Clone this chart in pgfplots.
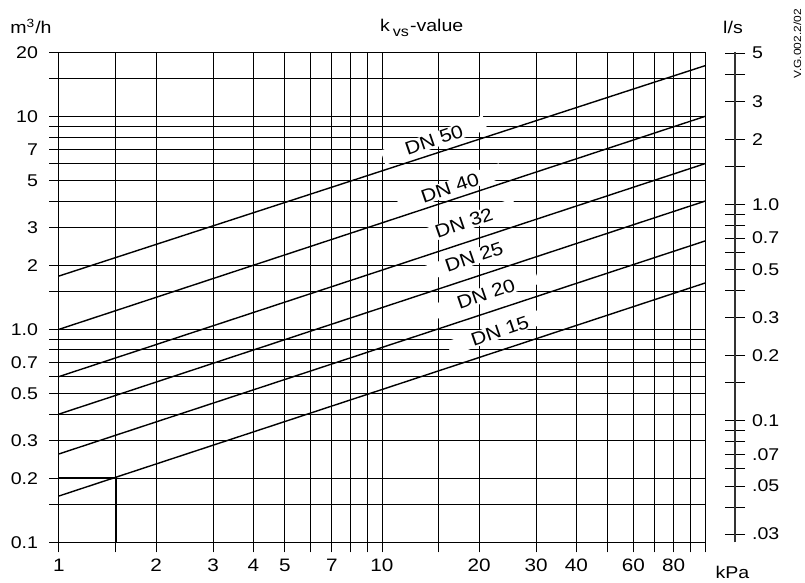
\documentclass[border=0pt]{standalone}
\usepackage{fontspec}
\setmainfont{Liberation Sans}[FakeStretch=1.15]
\usepackage{pgfplots}
\pgfplotsset{compat=1.18}

\newcommand{\lab}{\fontsize{8.5}{10}\selectfont}
\newcommand{\dnlab}{\fontsize{9.2}{10}\selectfont}

\begin{document}
\begin{tikzpicture}
\useasboundingbox (-29.5pt,-20.35pt) rectangle (373pt,271.15pt);

% main chart: flow against pressure drop, both log
\begin{axis}[
  name=main,
  scale only axis,
  width=323pt, height=245pt,
  xmode=log, ymode=log,
  xmin=1, xmax=100, ymin=0.1, ymax=20,
  xtick={1,2,3,4,5,7,10,20,30,40,60,80},
  xticklabels={1,2,3,4,5,7,10,20,30,40,60,80},
  minor xtick={1.5,6,8,9,15,50,70,90,100},
  ytick={0.1,0.2,0.3,0.5,0.7,1,2,3,5,7,10,20},
  yticklabels={0.1,0.2,0.3,0.5,0.7,1.0,2,3,5,7,10,20},
  minor ytick={0.15,0.4,0.6,0.8,0.9,1.5,4,6,8,9,15},
  grid=both,
  grid style={black, line width=0.5pt},
  minor grid style={black, line width=0.5pt},
  axis line style={black, line width=0.5pt},
  tick style={black, line width=0.5pt},
  tick align=outside,
  major tick length=5pt, minor tick length=5pt,
  xtick pos=bottom, ytick pos=left,
  tick label style={font=\lab},
  x tick label style={font=\fontsize{9}{10}\selectfont},
  y tick label style={xshift=-2pt},
]

% label backgrounds first, lines on top of them
\tikzset{dn/.style={fill=white, rotate=19, inner xsep=12pt, inner ysep=0.5pt, font=\dnlab}}
\node[dn] at (axis cs:14.49,7.74) {DN 50};
\node[dn] at (axis cs:16.24,4.61) {DN 40};
\node[dn] at (axis cs:17.94,3.155) {DN 32};
\node[dn] at (axis cs:19.27,2.185) {DN 25};
\node[dn] at (axis cs:20.99,1.464) {DN 20};
\node[dn] at (axis cs:23.19,0.982) {DN 15};

\addplot[black, line width=0.7pt] coordinates {(1,1.78) (100,17.3)};  % DN 50
\addplot[black, line width=0.7pt] coordinates {(1,1.0) (100,10)};     % DN 40
\addplot[black, line width=0.7pt] coordinates {(1,0.6) (100,6.0)};    % DN 32
\addplot[black, line width=0.7pt] coordinates {(1,0.4) (100,4.0)};    % DN 25
\addplot[black, line width=0.7pt] coordinates {(1,0.26) (100,2.6)};   % DN 20
\addplot[black, line width=0.7pt] coordinates {(1,0.165) (100,1.65)}; % DN 15

% reading example
\addplot[black, line width=1.2pt] coordinates {(1,0.2) (1.5,0.2) (1.5,0.1)};
\end{axis}

% second scale in l/s
\begin{axis}[
  at={(338pt,0pt)}, anchor=south east,
  scale only axis, width=10pt, height=245pt,
  xmin=0, xmax=1,
  ymode=log, ymin=0.0275, ymax=5.05,
  axis x line=none, axis y line=right,
  axis line style={-, black!80, line width=0.55pt},
  ytick={0.03,0.05,0.07,0.1,0.2,0.3,0.5,0.7,1,2,3,5},
  yticklabels={.03,.05,.07,0.1,0.2,0.3,0.5,0.7,1.0,2,3,5},
  minor ytick={0.04,0.06,0.08,0.09,0.15,0.4,0.6,0.8,0.9,1.5,4},
  tick align=center,
  major tick length=10pt, minor tick length=10pt,
  tick style={black, line width=0.5pt},
  yticklabel style={font=\lab},
]
\end{axis}

\node[anchor=base, font=\lab] at (-14pt,254.5pt) {m\textsuperscript{3}/h};
\node[anchor=base, font=\lab] at (181.35pt,255.3pt)
  {k\hspace{1.5pt}\raisebox{-2.5pt}{\fontsize{7}{8}\selectfont vs}\hspace{0.5pt}-value};
\node[anchor=base, font=\lab] at (337pt,254.2pt) {l/s};
\node[anchor=base, font=\lab] at (336.75pt,-18pt) {kPa};
\node[rotate=90, font=\fontsize{5.2}{6}\selectfont] at (369.25pt,249.15pt) {V.G.002.2/02};
\end{tikzpicture}
\end{document}
